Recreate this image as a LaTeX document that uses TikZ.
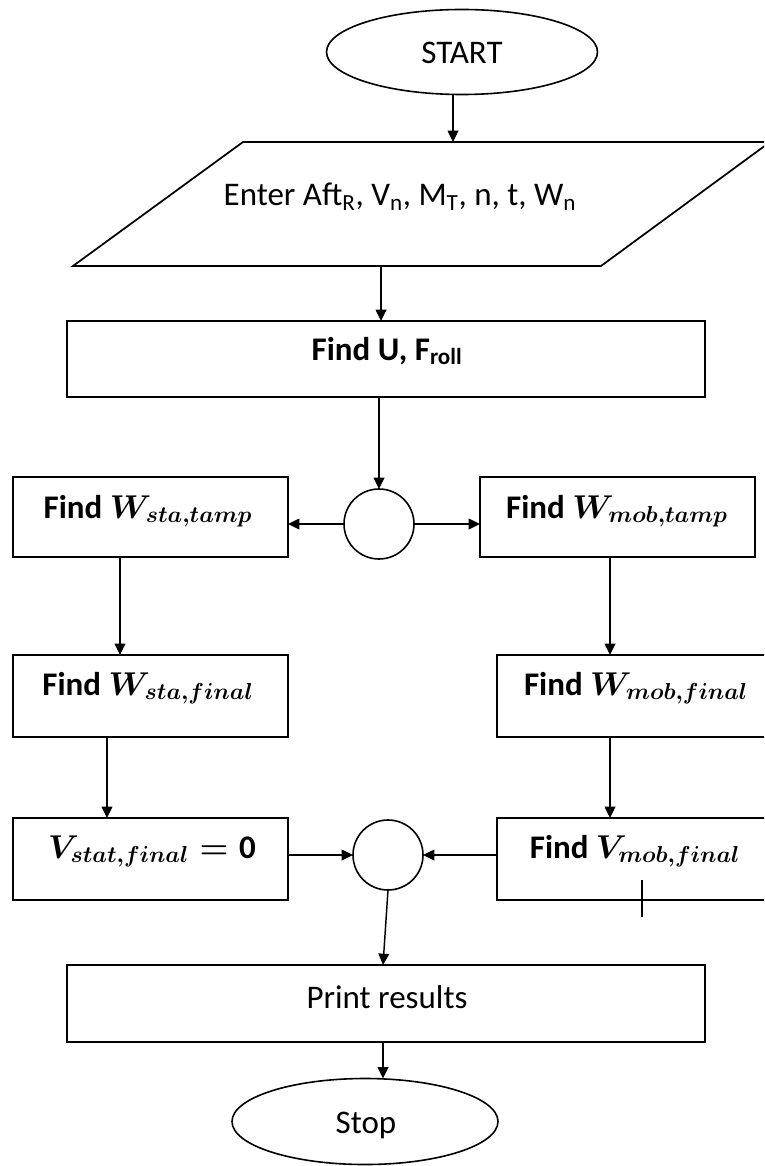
\RequirePackage{fix-cm}
\documentclass[tikz,border=0pt]{standalone}
\usepackage{fontspec}
\setmainfont{Carlito}
\usetikzlibrary{arrows.meta,shapes.geometric,calc}
\begin{document}
\begin{tikzpicture}[x=0.75pt,y=-0.75pt,
  every node/.style={inner sep=0pt, outer sep=0pt},
  term/.style={draw, ellipse, line width=1.2pt},
  box/.style={draw, rectangle, line width=1.5pt},
  junc/.style={draw, circle, line width=1.2pt, minimum size=52.5pt},
  lbl/.style={anchor=base, font=\fontsize{24.75}{30}\selectfont},
  blbl/.style={anchor=base, font=\fontsize{24.75}{30}\selectfont\bfseries\boldmath},
  arr/.style={-{Triangle[length=8.5pt,width=8pt]}, line width=1.1pt},
  tick/.style={line width=1pt},
]
\clip (0,0) rectangle (764,1166);

% shapes
\node[term, minimum width=271*0.75pt, minimum height=85*0.75pt] (start) at (462,52) {};
\coordinate (pa) at (243,142);
\coordinate (pb) at (770,142);
\coordinate (pc) at (601,266);
\coordinate (pd) at (73,266);
\draw[line width=1.3pt] (pa) -- (pb) -- (pc) -- (pd) -- cycle;
\coordinate (pin) at (453,142);
\coordinate (pout) at (381,266);

\node[box, minimum width=638*0.75pt, minimum height=76*0.75pt] (fu) at (386,359) {};
\node[junc] (c1) at (379,524) {};
\node[box, minimum width=275*0.75pt, minimum height=80*0.75pt] (wst) at (150.5,517) {};
\node[box, minimum width=275*0.75pt, minimum height=80*0.75pt] (wmt) at (617.5,517) {};
\node[box, minimum width=275*0.75pt, minimum height=82*0.75pt] (wsf) at (150.5,696) {};
\node[box, minimum width=275*0.75pt, minimum height=82*0.75pt] (wmf) at (634.5,696) {};
\node[box, minimum width=275*0.75pt, minimum height=82*0.75pt] (vst) at (150.5,859) {};
\node[box, minimum width=275*0.75pt, minimum height=82*0.75pt] (vmf) at (634.5,859) {};
\node[junc] (c2) at (388,855) {};
\node[box, minimum width=638*0.75pt, minimum height=77*0.75pt] (pr) at (386,1003.5) {};
\node[term, minimum width=266*0.75pt, minimum height=86*0.75pt] (stop) at (365,1121.5) {};

% labels
\node[lbl] (tstart) at (462,64) {START};
\node[lbl] (tin) at (400,206) {Enter Aft\textsubscript{R}, V\textsubscript{n}, M\textsubscript{T}, n, t, W\textsubscript{n}};
\node[blbl] (tfu) at (387,360) {Find U, F\textsubscript{roll}};
\node[blbl] (twst) at (148,518) {Find $W_{sta,tamp}$};
\node[blbl] (twmt) at (617,518) {Find $W_{mob,tamp}$};
\node[blbl] (twsf) at (148,695) {Find $W_{sta,final}$};
\node[blbl] (twmf) at (636,695) {Find $W_{mob,final}$};
\node[blbl] (tvst) at (152,858) {$V_{stat,final}={}$0};
\node[blbl] (tvmf) at (635,858) {Find $V_{mob,final}$};
\node[lbl] (tpr) at (387,1008) {Print results};
\node[lbl] (tstop) at (366,1133) {Stop};

% connectors
\coordinate (xa) at (120,0);
\coordinate (xb) at (107,0);
\coordinate (xc) at (610,0);
\coordinate (prin) at (383,965);
\draw[arr] (start.south -| pin) -- (pin);
\draw[arr] (pout) -- (fu.north -| pout);
\draw[arr] (fu.south -| c1) -- (c1.north);
\draw[arr] (c1.west) -- (wst.east |- c1.west);
\draw[arr] (c1.east) -- (wmt.west |- c1.east);
\draw[arr] (wst.south -| xa) -- (wsf.north -| xa);
\draw[arr] (wsf.south -| xb) -- (vst.north -| xb);
\draw[arr] (wmt.south -| xc) -- (wmf.north -| xc);
\draw[arr] (wmf.south -| xc) -- (vmf.north -| xc);
\draw[arr] (vst.east |- c2.west) -- (c2.west);
\draw[arr] (vmf.west |- c2.east) -- (c2.east);
\draw[arr] (c2.south) -- (prin);
\draw[arr] (pr.south -| prin) -- (stop.north -| prin);

% stray tick mark
\coordinate (tk1) at (642,880);
\coordinate (tk2) at (642,917);
\draw[tick] (tk1) -- (tk2);
\end{tikzpicture}
\end{document}
